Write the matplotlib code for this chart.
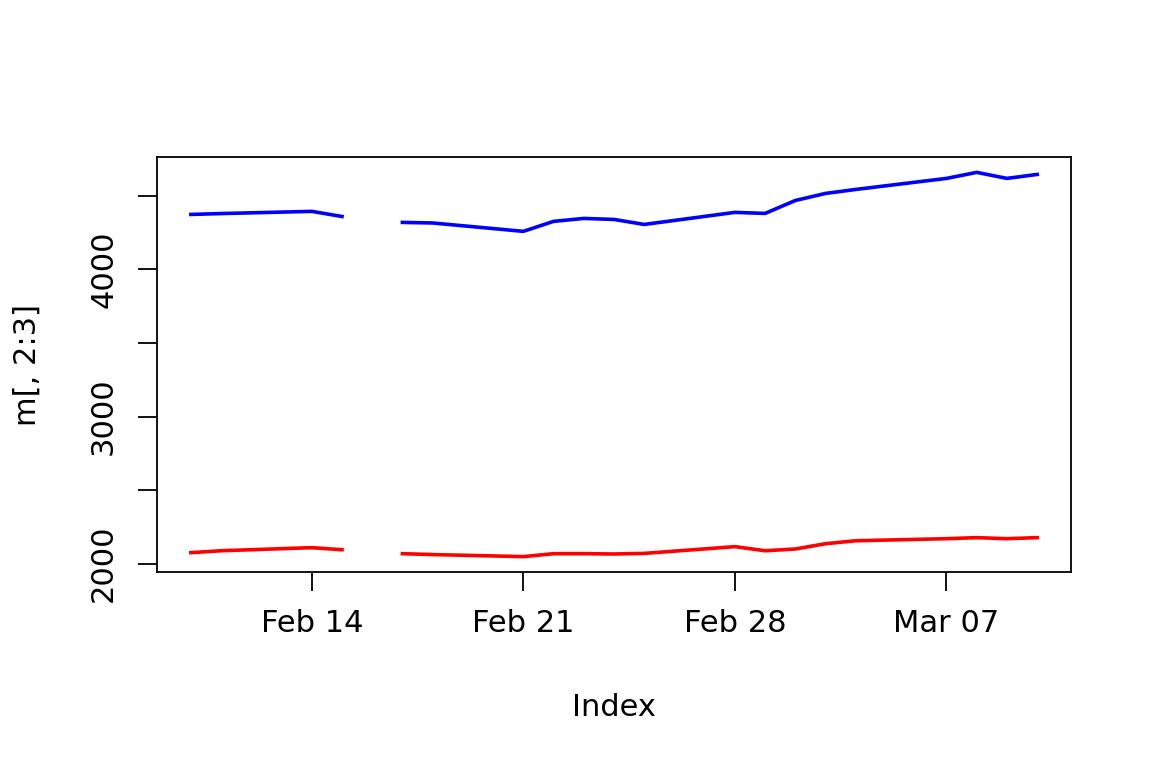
import numpy as np
import pandas as pd
import matplotlib
matplotlib.use("Agg")
import matplotlib.pyplot as plt
import matplotlib.dates as mdates

# Dates of the series (Feb 16 is missing -> gap in the lines)
dates = pd.to_datetime([
    "2014-02-10", "2014-02-11", "2014-02-14", "2014-02-15", "2014-02-16",
    "2014-02-17", "2014-02-18", "2014-02-21", "2014-02-22", "2014-02-23",
    "2014-02-24", "2014-02-25", "2014-02-28", "2014-03-01", "2014-03-02",
    "2014-03-03", "2014-03-04", "2014-03-07", "2014-03-08", "2014-03-09",
    "2014-03-10",
])

# column 2 (red) and column 3 (blue)
col2 = [2075, 2088, 2109, 2095, np.nan,
        2068, 2062, 2048, 2068, 2068,
        2066, 2070, 2116, 2088, 2100,
        2136, 2156, 2170, 2177, 2170,
        2177]
col3 = [4374, 4380, 4395, 4360, np.nan,
        4320, 4316, 4259, 4327, 4347,
        4340, 4306, 4388, 4381, 4469,
        4517, 4544, 4619, 4660, 4619,
        4646]

xticks = pd.to_datetime(["2014-02-14", "2014-02-21", "2014-02-28", "2014-03-07"])
yticks = [2000, 2500, 3000, 3500, 4000, 4500]
ylabels = ["2000", "", "3000", "", "4000", ""]

plt.rcParams['font.family'] = 'DejaVu Sans'

fig = plt.figure(figsize=(11.52, 7.68), dpi=100)
ax = fig.add_axes([157 / 1152, 1 - 572 / 768, (1071 - 157) / 1152, (572 - 157) / 768])

ax.plot(dates, col2, color='red', lw=2.6)
ax.plot(dates, col3, color='blue', lw=2.6)

# R style 4% padding
x0 = mdates.date2num(dates[0])
x1 = mdates.date2num(dates[-1])
dx = (x1 - x0) * 0.04
ax.set_xlim(x0 - dx, x1 + dx)
vals = np.array(col2 + col3, dtype=float)
lo, hi = np.nanmin(vals), np.nanmax(vals)
dy = (hi - lo) * 0.04
ax.set_ylim(lo - dy, hi + dy)

ax.set_xticks(xticks)
ax.xaxis.set_major_formatter(mdates.DateFormatter('%b %d'))
ax.set_yticks(yticks)
ax.set_yticklabels(ylabels, rotation=90, va='center')

ax.tick_params(axis='both', length=14, width=1.3, labelsize=22, direction='out')
ax.tick_params(axis='x', pad=13)
ax.tick_params(axis='y', pad=14)
for s in ax.spines.values():
    s.set_linewidth(1.3)

fig.text(614 / 1152, 1 - 707 / 768, 'Index', fontsize=22, ha='center', va='center')
fig.text(27 / 1152, 1 - 365 / 768, 'm[, 2:3]', fontsize=22, ha='center', va='center', rotation=90)

plt.savefig('out.png', dpi=100)
